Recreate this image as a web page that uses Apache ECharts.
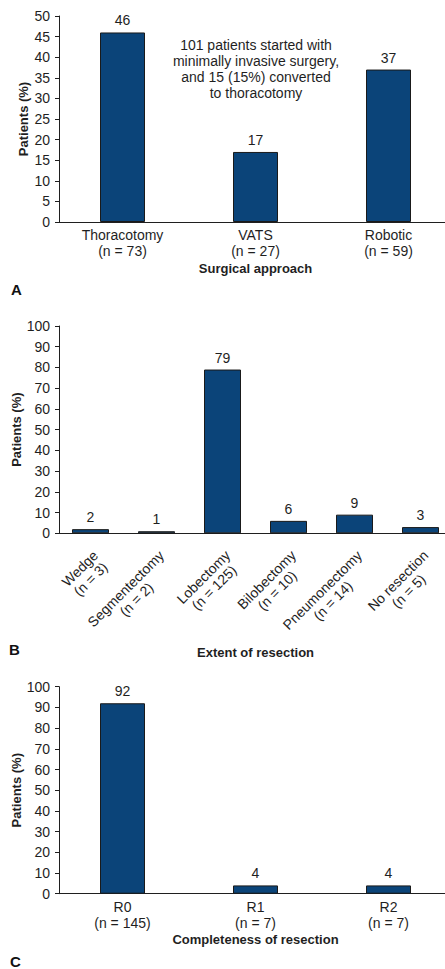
<!DOCTYPE html>
<html>
<head>
<meta charset="utf-8">
<script src="https://cdn.jsdelivr.net/npm/echarts@6/dist/echarts.min.js"></script>
<style>
  html, body { margin: 0; padding: 0; background: #ffffff; }
  #chart { width: 445px; height: 969px; }
</style>
</head>
<body>
<div id="chart"></div>
<script>
// Panel A: surgical approach
const approachCategories = ['Thoracotomy\n(n = 73)', 'VATS\n(n = 27)', 'Robotic\n(n = 59)'];
const approachValues = [46, 17, 37];
const approachAxis = [0, 50, 5]; // min, max, interval

// Panel B: extent of resection
const extentCategories = [
  'Wedge\n(n = 3)', 'Segmentectomy\n(n = 2)', 'Lobectomy\n(n = 125)',
  'Bilobectomy\n(n = 10)', 'Pneumonectomy\n(n = 14)', 'No resection\n(n = 5)'
];
const extentValues = [2, 1, 79, 6, 9, 3];
const extentAxis = [0, 100, 10];

// Panel C: completeness of resection
const completenessCategories = ['R0\n(n = 145)', 'R1\n(n = 7)', 'R2\n(n = 7)'];
const completenessValues = [92, 4, 4];
const completenessAxis = [0, 100, 10];

const approachNote = '101 patients started with\nminimally invasive surgery,\nand 15 (15%) converted\nto thoracotomy';

const FONT = 'Liberation Sans, Arial, Helvetica, sans-serif';
const INK = '#1f1f1f';
const BAR = '#0b4479';
const FS = 14;

// Rotated two-line labels keep each line centred inside the label block
const measure = document.createElement('canvas').getContext('2d');
measure.font = FS + 'px ' + FONT;
const extentRich = {};
extentCategories.forEach((c, i) => {
  const w = Math.max(...c.split('\n').map(s => measure.measureText(s).width));
  extentRich['l' + i] = {
    width: Math.ceil(w), align: 'center', fontSize: FS, lineHeight: 15,
    color: INK, fontFamily: FONT
  };
});

const grids = [
  { left: 56, width: 399, top: 16, height: 206 },
  { left: 57.5, width: 396, top: 326, height: 207.3 },
  { left: 56, width: 399, top: 686.7, height: 207 }
].map(g => Object.assign({ outerBoundsMode: 'none', containLabel: false }, g));

function yAxis(gridIndex, range, nameGap, offset) {
  return {
    type: 'value', gridIndex,
    min: range[0], max: range[1], interval: range[2],
    offset,
    name: 'Patients (%)', nameLocation: 'middle', nameGap,
    nameMoveOverlap: false,
    nameTextStyle: { fontFamily: FONT, fontSize: 13, fontWeight: 'bold', color: INK },
    axisLine: { show: true, lineStyle: { color: INK, width: 1 } },
    axisTick: { show: true, length: 4, lineStyle: { color: INK, width: 1 } },
    axisLabel: { fontFamily: FONT, fontSize: FS, color: INK, margin: 9 },
    splitLine: { show: false }
  };
}

function xAxis(gridIndex, cats, name, nameGap, label) {
  return {
    type: 'category', gridIndex, data: cats,
    name, nameLocation: 'middle', nameGap,
    nameMoveOverlap: false,
    nameTextStyle: { fontFamily: FONT, fontSize: 13, fontWeight: 'bold', color: INK },
    axisLine: { show: true, lineStyle: { color: INK, width: 1 } },
    axisTick: { show: false },
    axisLabel: Object.assign({ fontFamily: FONT, fontSize: FS, color: INK, lineHeight: 16, margin: 5, interval: 0 }, label),
    splitLine: { show: false }
  };
}

function bars(index, values, width) {
  return {
    type: 'bar', xAxisIndex: index, yAxisIndex: index, data: values,
    barWidth: width,
    itemStyle: { color: BAR, borderColor: '#1a1a1a', borderWidth: 1 },
    label: { show: true, position: 'top', distance: 5, fontFamily: FONT, fontSize: FS, color: INK },
    silent: true
  };
}

const option = {
  backgroundColor: '#ffffff',
  animation: false,
  grid: grids,
  xAxis: [
    xAxis(0, approachCategories, 'Surgical approach', 40, {}),
    xAxis(1, extentCategories, 'Extent of resection', 113, {
      rotate: 45, margin: 14, verticalAlign: 'top', align: 'right',
      formatter: (v, i) => v.split('\n').map(s => '{l' + i + '|' + s + '}').join('\n'),
      rich: extentRich
    }),
    xAxis(2, completenessCategories, 'Completeness of resection', 39, {})
  ],
  yAxis: [
    yAxis(0, approachAxis, 29, -3),
    yAxis(1, extentAxis, 36, -1.5),
    yAxis(2, completenessAxis, 36, -3)
  ],
  series: [
    bars(0, approachValues, 45),
    bars(1, extentValues, 37),
    bars(2, completenessValues, 45)
  ],
  graphic: [
    { type: 'text', x: 256, y: 37, style: { text: approachNote, textAlign: 'center', textVerticalAlign: 'top', font: FS + 'px ' + FONT, lineHeight: 16, fill: INK } },
    { type: 'text', x: 11, y: 282, style: { text: 'A', font: 'bold 15px ' + FONT, fill: '#111' } },
    { type: 'text', x: 9, y: 642, style: { text: 'B', font: 'bold 15px ' + FONT, fill: '#111' } },
    { type: 'text', x: 10, y: 954, style: { text: 'C', font: 'bold 15px ' + FONT, fill: '#111' } }
  ]
};

const chart = echarts.init(document.getElementById('chart'), null, { renderer: 'svg' });
chart.setOption(option);
</script>
</body>
</html>
